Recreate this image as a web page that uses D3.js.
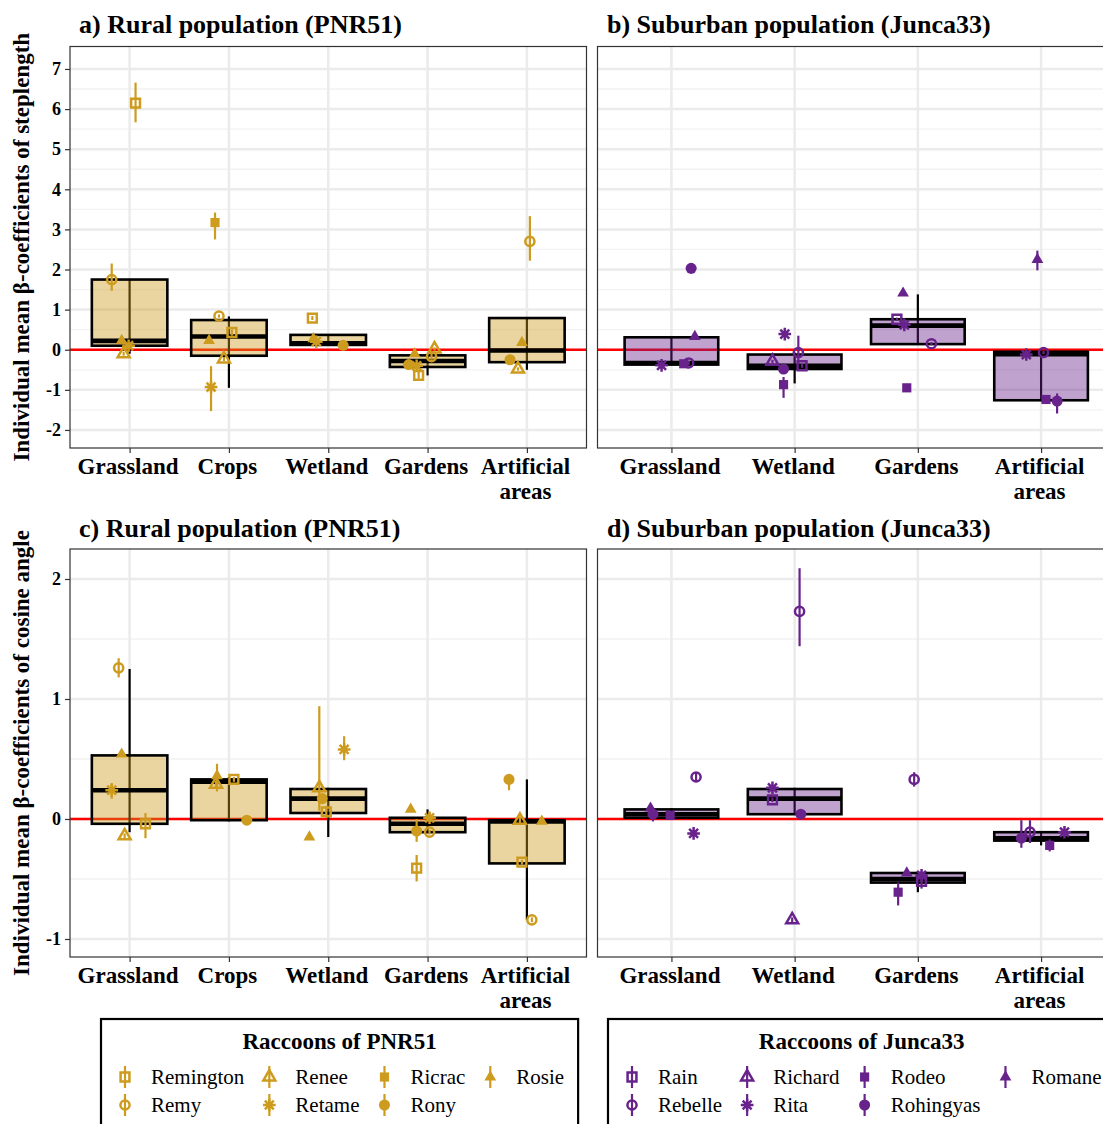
<!DOCTYPE html>
<html>
<head>
<meta charset="utf-8">
<script src="https://cdn.jsdelivr.net/npm/d3@7"></script>
<style>
  body { margin: 0; background: #fff; }
  svg text { font-family: "Liberation Serif", "Times New Roman", serif; }
</style>
</head>
<body>
<div id="chart"></div>
<script>
var width = 1103;
var height = 1124;
var serif = "'Liberation Serif', 'Times New Roman', serif";

var gold = "#CD9B1D";
var purple = "#68228B";

var ruralIds = ["Remington", "Remy", "Renee", "Retame", "Ricrac", "Rony", "Rosie"];
var suburbIds = ["Rain", "Rebelle", "Richard", "Rita", "Rodeo", "Rohingyas", "Romane"];
var ruralHabitats = ["Grassland", "Crops", "Wetland", "Gardens", "Artificial areas"];
var suburbHabitats = ["Grassland", "Wetland", "Gardens", "Artificial areas"];
var stepTicks = [-2, -1, 0, 1, 2, 3, 4, 5, 6, 7];
var stepMinor = [-1.5, -0.5, 0.5, 1.5, 2.5, 3.5, 4.5, 5.5, 6.5];
var angleTicks = [-1, 0, 1, 2];
var angleMinor = [-0.5, 0.5, 1.5];

// [individual, habitat, mean, lower, upper]
var stepRural = [
  ["Remington", "Grassland", 6.15, 5.67, 6.66],
  ["Remy", "Grassland", 1.75, 1.47, 2.15],
  ["Rosie", "Grassland", 0.23, 0.15, 0.31],
  ["Retame", "Grassland", 0.10, 0.02, 0.18],
  ["Renee", "Grassland", -0.10, -0.15, -0.05],
  ["Ricrac", "Crops", 3.17, 2.75, 3.42],
  ["Remy", "Crops", 0.84, 0.80, 0.88],
  ["Remington", "Crops", 0.43, 0.35, 0.51],
  ["Rosie", "Crops", 0.23, 0.20, 0.26],
  ["Renee", "Crops", -0.23, -0.28, -0.18],
  ["Retame", "Crops", -0.93, -1.53, -0.41],
  ["Remington", "Wetland", 0.79, 0.74, 0.84],
  ["Rosie", "Wetland", 0.27, 0.17, 0.37],
  ["Retame", "Wetland", 0.20, 0.15, 0.25],
  ["Rony", "Wetland", 0.11, 0.07, 0.15],
  ["Renee", "Gardens", 0.02, -0.02, 0.06],
  ["Rosie", "Gardens", -0.10, -0.13, -0.07],
  ["Remy", "Gardens", -0.17, -0.25, -0.05],
  ["Rony", "Gardens", -0.37, -0.41, -0.33],
  ["Retame", "Gardens", -0.40, -0.45, -0.35],
  ["Remington", "Gardens", -0.64, -0.72, -0.50],
  ["Remy", "Artificial areas", 2.70, 2.22, 3.33],
  ["Rosie", "Artificial areas", 0.18, 0.14, 0.22],
  ["Rony", "Artificial areas", -0.25, -0.29, -0.21],
  ["Renee", "Artificial areas", -0.48, -0.52, -0.44]
];
var stepRuralJitter = [0.06, -0.18, -0.08, -0.01, -0.06,
  -0.14, -0.10, 0.03, -0.20, -0.05, -0.18,
  -0.16, -0.15, -0.12, 0.15,
  0.07, -0.13, 0.04, -0.19, -0.11, -0.09,
  0.03, -0.05, -0.17, -0.09];

var stepSuburb = [
  ["Rohingyas", "Grassland", 2.03, 1.90, 2.15],
  ["Romane", "Grassland", 0.33, 0.30, 0.36],
  ["Rebelle", "Grassland", -0.33, -0.38, -0.28],
  ["Rodeo", "Grassland", -0.35, -0.39, -0.31],
  ["Rita", "Grassland", -0.39, -0.44, -0.34],
  ["Rita", "Wetland", 0.39, 0.35, 0.43],
  ["Rebelle", "Wetland", -0.07, -0.35, 0.35],
  ["Richard", "Wetland", -0.29, -0.33, -0.25],
  ["Rain", "Wetland", -0.40, -0.45, -0.35],
  ["Rohingyas", "Wetland", -0.48, -0.52, -0.44],
  ["Rodeo", "Wetland", -0.87, -1.20, -0.68],
  ["Romane", "Gardens", 1.41, 1.37, 1.45],
  ["Rain", "Gardens", 0.76, 0.72, 0.80],
  ["Rita", "Gardens", 0.62, 0.58, 0.66],
  ["Rebelle", "Gardens", 0.15, 0.11, 0.19],
  ["Rodeo", "Gardens", -0.95, -1.05, -0.85],
  ["Romane", "Artificial areas", 2.25, 1.98, 2.47],
  ["Rebelle", "Artificial areas", -0.07, -0.11, -0.03],
  ["Rita", "Artificial areas", -0.12, -0.20, -0.04],
  ["Rodeo", "Artificial areas", -1.24, -1.28, -1.20],
  ["Rohingyas", "Artificial areas", -1.28, -1.59, -1.09]
];
var stepSuburbJitter = [0.16, 0.19, 0.14, 0.10, -0.08,
  -0.08, 0.03, -0.18, 0.06, -0.09, -0.09,
  -0.12, -0.17, -0.11, 0.11, -0.09,
  -0.03, 0.02, -0.12, 0.04, 0.13];

var angleRural = [
  ["Remy", "Grassland", 1.26, 1.18, 1.34],
  ["Rosie", "Grassland", 0.54, 0.52, 0.56],
  ["Retame", "Grassland", 0.24, 0.17, 0.30],
  ["Remington", "Grassland", -0.04, -0.16, 0.05],
  ["Renee", "Grassland", -0.14, -0.16, -0.12],
  ["Rosie", "Crops", 0.36, 0.23, 0.46],
  ["Renee", "Crops", 0.29, 0.26, 0.32],
  ["Remington", "Crops", 0.33, 0.31, 0.35],
  ["Rony", "Crops", -0.01, -0.03, 0.01],
  ["Retame", "Wetland", 0.58, 0.49, 0.69],
  ["Renee", "Wetland", 0.26, 0.07, 0.94],
  ["Rony", "Wetland", 0.17, 0.15, 0.19],
  ["Remington", "Wetland", 0.06, 0.01, 0.11],
  ["Rosie", "Wetland", -0.15, -0.17, -0.13],
  ["Rosie", "Gardens", 0.08, 0.06, 0.10],
  ["Retame", "Gardens", 0.01, -0.02, 0.05],
  ["Rony", "Gardens", -0.10, -0.19, 0.00],
  ["Remy", "Gardens", -0.11, -0.13, -0.09],
  ["Remington", "Gardens", -0.41, -0.52, -0.30],
  ["Rony", "Artificial areas", 0.33, 0.24, 0.35],
  ["Renee", "Artificial areas", -0.01, -0.04, 0.02],
  ["Rosie", "Artificial areas", -0.02, -0.04, 0.00],
  ["Remington", "Artificial areas", -0.36, -0.38, -0.34],
  ["Remy", "Artificial areas", -0.84, -0.86, -0.82]
];
var angleRuralJitter = [-0.11, -0.08, -0.18, 0.16, -0.05,
  -0.12, -0.13, 0.05, 0.18,
  0.16, -0.09, -0.06, -0.02, -0.19,
  -0.17, 0.02, -0.11, 0.02, -0.11,
  -0.18, -0.07, 0.15, -0.05, 0.05];

var angleSuburb = [
  ["Rebelle", "Grassland", 0.35, 0.31, 0.39],
  ["Romane", "Grassland", 0.09, 0.07, 0.11],
  ["Rohingyas", "Grassland", 0.04, -0.02, 0.09],
  ["Rodeo", "Grassland", 0.03, 0.01, 0.05],
  ["Rita", "Grassland", -0.12, -0.14, -0.10],
  ["Rebelle", "Wetland", 1.73, 1.44, 2.09],
  ["Rita", "Wetland", 0.26, 0.24, 0.28],
  ["Rain", "Wetland", 0.16, 0.14, 0.18],
  ["Rohingyas", "Wetland", 0.04, 0.02, 0.06],
  ["Richard", "Wetland", -0.84, -0.86, -0.82],
  ["Rebelle", "Gardens", 0.33, 0.27, 0.39],
  ["Romane", "Gardens", -0.45, -0.47, -0.43],
  ["Rita", "Gardens", -0.47, -0.49, -0.45],
  ["Rain", "Gardens", -0.52, -0.58, -0.47],
  ["Rodeo", "Gardens", -0.61, -0.72, -0.53],
  ["Rebelle", "Artificial areas", -0.11, -0.20, -0.01],
  ["Rita", "Artificial areas", -0.11, -0.13, -0.09],
  ["Rohingyas", "Artificial areas", -0.16, -0.24, -0.01],
  ["Rodeo", "Artificial areas", -0.22, -0.27, -0.17]
];
var angleSuburbJitter = [0.20, -0.17, -0.15, -0.01, 0.18,
  0.04, -0.18, -0.18, 0.05, -0.02,
  -0.03, -0.09, 0.03, 0.03, -0.16,
  -0.09, 0.19, -0.16, 0.07];

// box stats per habitat: [lower whisker, q1, median, q3, upper whisker]
var stepRuralBox = [
  [-0.10, 0.10, 0.22, 1.75, 1.75],
  [-0.95, -0.15, 0.33, 0.74, 0.83],
  [0.12, 0.12, 0.16, 0.37, 0.37],
  [-0.64, -0.43, -0.28, -0.14, -0.10],
  [-0.50, -0.31, -0.02, 0.79, 0.79]
];
var stepSuburbBox = [
  [-0.39, -0.37, -0.33, 0.31, 0.33],
  [-0.84, -0.48, -0.40, -0.12, -0.07],
  [0.14, 0.14, 0.60, 0.76, 1.38],
  [-1.28, -1.26, -0.11, -0.05, -0.05]
];
var angleRuralBox = [
  [-0.11, -0.04, 0.24, 0.53, 1.25],
  [-0.02, -0.01, 0.31, 0.33, 0.35],
  [-0.15, 0.05, 0.17, 0.25, 0.26],
  [-0.11, -0.11, -0.04, 0.01, 0.08],
  [-0.84, -0.37, -0.02, -0.01, 0.33]
];
var angleSuburbBox = [
  [0.01, 0.01, 0.04, 0.08, 0.09],
  [0.04, 0.04, 0.17, 0.25, 0.26],
  [-0.61, -0.53, -0.50, -0.45, -0.45],
  [-0.22, -0.18, -0.16, -0.11, -0.11]
];

var svg = d3.select("#chart")
  .append("svg")
  .attr("width", width)
  .attr("height", height);

// ggplot-like shapes: open square, open circle, open triangle, asterisk, filled square, filled circle, filled triangle
var asterisk = {
  draw: function(ctx, size) {
    var r = Math.sqrt(size) / 2, d = r * Math.SQRT1_2;
    ctx.moveTo(0, -r); ctx.lineTo(0, r);
    ctx.moveTo(-r, 0); ctx.lineTo(r, 0);
    ctx.moveTo(-d, -d); ctx.lineTo(d, d);
    ctx.moveTo(-d, d); ctx.lineTo(d, -d);
  }
};
var shapeType = [d3.symbolSquare, d3.symbolCircle, d3.symbolTriangle, asterisk, d3.symbolSquare, d3.symbolCircle, d3.symbolTriangle];
var shapeSize = [78, 66, 62, 160, 84, 96, 60];
var shapeOpen = [true, true, true, true, false, false, false];

function drawShape(sel, idx, color) {
  sel.append("path")
    .attr("d", d3.symbol().type(shapeType[idx]).size(shapeSize[idx])())
    .attr("fill", shapeOpen[idx] ? "none" : color)
    .attr("stroke", shapeOpen[idx] ? color : "none")
    .attr("stroke-width", 2.5);
}

function drawPanel(p) {
  var g = svg.append("g");
  var x = d3.scalePoint().domain(p.habitats).range([p.left, p.right]).padding(0.6);
  var y = d3.scaleLinear().domain(p.yDomain).range([p.bottom, p.top]);
  var step = x.step();

  // grid
  g.selectAll(".minor").data(p.minor).enter().append("line")
    .attr("x1", p.left).attr("x2", p.right)
    .attr("y1", function(d) { return y(d); }).attr("y2", function(d) { return y(d); })
    .attr("stroke", "#F2F2F2").attr("stroke-width", 1.3);
  g.selectAll(".major").data(p.ticks).enter().append("line")
    .attr("x1", p.left).attr("x2", p.right)
    .attr("y1", function(d) { return y(d); }).attr("y2", function(d) { return y(d); })
    .attr("stroke", "#EBEBEB").attr("stroke-width", 2.5);
  g.selectAll(".vgrid").data(p.habitats).enter().append("line")
    .attr("x1", function(d) { return x(d); }).attr("x2", function(d) { return x(d); })
    .attr("y1", p.top).attr("y2", p.bottom)
    .attr("stroke", "#EBEBEB").attr("stroke-width", 2.5);

  // zero line
  g.append("line")
    .attr("x1", p.left).attr("x2", p.right)
    .attr("y1", y(0)).attr("y2", y(0))
    .attr("stroke", "#FF0000").attr("stroke-width", 2.4);

  // boxplots
  var bw = step * 0.76;
  var boxes = g.selectAll(".box").data(p.boxes).enter().append("g");
  boxes.append("line")
    .attr("x1", function(d, i) { return x(p.habitats[i]); })
    .attr("x2", function(d, i) { return x(p.habitats[i]); })
    .attr("y1", function(d) { return y(d[0]); })
    .attr("y2", function(d) { return y(d[4]); })
    .attr("stroke", "#000").attr("stroke-width", 2.2);
  boxes.append("rect")
    .attr("x", function(d, i) { return x(p.habitats[i]) - bw / 2; })
    .attr("width", bw)
    .attr("y", function(d) { return y(d[3]); })
    .attr("height", function(d) { return y(d[1]) - y(d[3]); })
    .attr("fill", p.color).attr("fill-opacity", 0.42)
    .attr("stroke", "#000").attr("stroke-width", 2.6);
  boxes.append("line")
    .attr("x1", function(d, i) { return x(p.habitats[i]) - bw / 2; })
    .attr("x2", function(d, i) { return x(p.habitats[i]) + bw / 2; })
    .attr("y1", function(d) { return y(d[2]); })
    .attr("y2", function(d) { return y(d[2]); })
    .attr("stroke", "#000").attr("stroke-width", 4.6);

  // individual means with error bars
  var pts = g.selectAll(".pt").data(p.points).enter().append("g")
    .attr("transform", function(d, i) {
      return "translate(" + (x(d[1]) + p.jitter[i] * step) + ",0)";
    });
  pts.append("line")
    .attr("y1", function(d) { return y(d[3]); })
    .attr("y2", function(d) { return y(d[4]); })
    .attr("stroke", p.color).attr("stroke-width", 2.2);
  pts.each(function(d) {
    var s = d3.select(this).append("g").attr("transform", "translate(0," + y(d[2]) + ")");
    drawShape(s, p.ids.indexOf(d[0]), p.color);
  });

  // panel border
  g.append("rect")
    .attr("x", p.left).attr("y", p.top)
    .attr("width", p.right - p.left).attr("height", p.bottom - p.top)
    .attr("fill", "none").attr("stroke", "#333").attr("stroke-width", 1.2);

  // axes (y labels only on the left column)
  if (p.yTitle) {
    var ya = g.append("g").attr("transform", "translate(" + p.left + ",0)")
      .call(d3.axisLeft(y).tickValues(p.ticks).tickSize(5).tickPadding(4).tickFormat(function(d) { return String(d); }));
    ya.select(".domain").remove();
    ya.selectAll(".tick line").attr("stroke", "#333").attr("stroke-width", 1.2);
    ya.selectAll(".tick text")
      .attr("font-size", 18).attr("font-weight", "bold").attr("fill", "#000")
      .attr("font-family", serif);

    svg.append("text")
      .attr("transform", "translate(29," + ((p.top + p.bottom) / 2) + ") rotate(-90)")
      .attr("text-anchor", "middle")
      .attr("font-family", serif)
      .attr("font-size", 23).attr("font-weight", "bold")
      .text(p.yTitle);
  }

  var xa = g.append("g").attr("transform", "translate(0," + p.bottom + ")")
    .call(d3.axisBottom(x).tickSize(5).tickPadding(4));
  xa.select(".domain").remove();
  xa.selectAll(".tick line").attr("stroke", "#333").attr("stroke-width", 1.2);
  xa.selectAll(".tick text")
    .attr("y", 0).attr("dy", null)
    .attr("font-size", 23).attr("font-weight", "bold").attr("fill", "#000")
    .attr("font-family", serif)
    .each(function(d) {
      var t = d3.select(this).text(null);
      d.split(" ").forEach(function(w, k) {
        t.append("tspan").attr("x", -2).attr("y", 26 + k * 25).text(w);
      });
    });

  // title
  svg.append("text")
    .attr("x", p.titleX).attr("y", p.titleY)
    .attr("font-family", serif)
    .attr("font-size", 26).attr("font-weight", "bold")
    .text(p.title);
}

drawPanel({
  left: 70, right: 586.5, top: 46.5, bottom: 448,
  habitats: ruralHabitats, ids: ruralIds, color: gold,
  points: stepRural, jitter: stepRuralJitter, boxes: stepRuralBox,
  yDomain: [-2.45, 7.56], ticks: stepTicks, minor: stepMinor,
  title: "a) Rural population (PNR51)", titleX: 79, titleY: 33,
  yTitle: "Individual mean \u03b2-coefficients of steplength"
});
drawPanel({
  left: 597.5, right: 1115, top: 46.5, bottom: 448,
  habitats: suburbHabitats, ids: suburbIds, color: purple,
  points: stepSuburb, jitter: stepSuburbJitter, boxes: stepSuburbBox,
  yDomain: [-2.45, 7.56], ticks: stepTicks, minor: stepMinor,
  title: "b) Suburban population (Junca33)", titleX: 607, titleY: 33
});
drawPanel({
  left: 70, right: 586.5, top: 549, bottom: 957,
  habitats: ruralHabitats, ids: ruralIds, color: gold,
  points: angleRural, jitter: angleRuralJitter, boxes: angleRuralBox,
  yDomain: [-1.15, 2.25], ticks: angleTicks, minor: angleMinor,
  title: "c) Rural population (PNR51)", titleX: 79, titleY: 537,
  yTitle: "Individual mean \u03b2-coefficients of cosine angle"
});
drawPanel({
  left: 597.5, right: 1115, top: 549, bottom: 957,
  habitats: suburbHabitats, ids: suburbIds, color: purple,
  points: angleSuburb, jitter: angleSuburbJitter, boxes: angleSuburbBox,
  yDomain: [-1.15, 2.25], ticks: angleTicks, minor: angleMinor,
  title: "d) Suburban population (Junca33)", titleX: 607, titleY: 537
});

// legends
function drawLegend(boxX, title, ids, color) {
  var g = svg.append("g");
  var frame = g.append("rect")
    .attr("x", boxX).attr("y", 1019).attr("height", 130)
    .attr("fill", "#fff").attr("stroke", "#000").attr("stroke-width", 2.2);
  var rows = [1077, 1105];
  var symX = boxX + 24;
  var end = symX;
  for (var c = 0; c < Math.ceil(ids.length / 2); c++) {
    var colW = 0;
    for (var r = 0; r < 2; r++) {
      var k = c * 2 + r;
      if (k >= ids.length) continue;
      var item = g.append("g").attr("transform", "translate(" + symX + "," + rows[r] + ")");
      item.append("line").attr("y1", -11).attr("y2", 11)
        .attr("stroke", color).attr("stroke-width", 2.2);
      drawShape(item, k, color);
      var t = item.append("text").attr("x", 26).attr("y", 7)
        .attr("font-family", serif)
        .attr("font-size", 21).text(ids[k]);
      colW = Math.max(colW, t.node().getComputedTextLength());
    }
    end = symX + 26 + colW;
    symX = end + 25;
  }
  var w = end + 14 - boxX;
  frame.attr("width", w);
  g.append("text")
    .attr("x", boxX + w / 2).attr("y", 1049)
    .attr("text-anchor", "middle")
    .attr("font-family", serif)
    .attr("font-size", 23).attr("font-weight", "bold")
    .text(title);
}

drawLegend(101, "Raccoons of PNR51", ruralIds, gold);
drawLegend(608, "Raccoons of Junca33", suburbIds, purple);
</script>
</body>
</html>
